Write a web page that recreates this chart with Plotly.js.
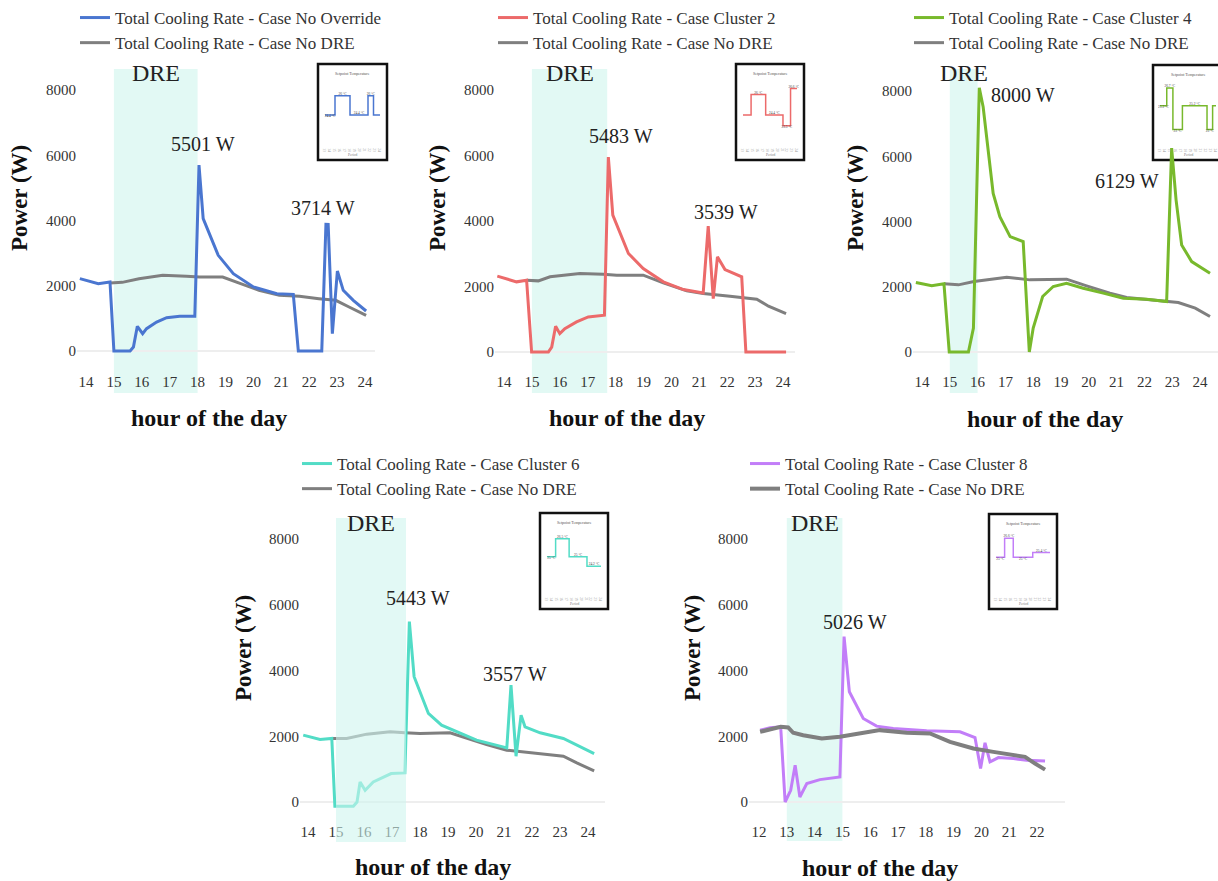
<!DOCTYPE html>
<html><head><meta charset="utf-8">
<script src="https://cdn.plot.ly/plotly-3.0.1.min.js"></script>
<style>html,body{margin:0;padding:0;background:#fff}#chart{width:1218px;height:881px}</style>
</head><body><div id="chart"></div>
<script>
// ---------------- DATA ----------------
const seriesNames = ['Total Cooling Rate - Case No Override','Total Cooling Rate - Case Cluster 2','Total Cooling Rate - Case Cluster 4','Total Cooling Rate - Case Cluster 6','Total Cooling Rate - Case Cluster 8'];
const baselineName = 'Total Cooling Rate - Case No DRE';
const xTicksA = [14,15,16,17,18,19,20,21,22,23,24];
const xTicksB = [12,13,14,15,16,17,18,19,20,21,22];
const yTicks = [0,2000,4000,6000,8000];
const xTitle = 'hour of the day';
const yTitle = 'Power (W)';
const dreLabel = 'DRE';

// Panel 1 – No Override
const p1Hours = [13.78,14.44,14.86,15.0,15.58,15.7,15.84,16.03,16.17,16.53,16.89,17.36,17.9,18.05,18.2,18.74,19.28,20.0,20.84,21.43,21.61,22.45,22.6,22.68,22.83,23.01,23.22,23.58,24.04];
const p1Cool  = [2217,2064,2115,0,0,120,756,531,684,889,1022,1062,1062,5700,4056,2932,2370,1962,1757,1737,0,0,3882,3880,531,2452,1860,1553,1226];
const p1BaseHours = [14.86,15.3,15.9,16.75,17.6,18.07,18.9,19.5,20.2,20.93,21.65,22.35,22.95,23.43,24.04];
const p1Base      = [2084,2104,2217,2319,2288,2268,2268,2084,1860,1706,1675,1604,1553,1349,1093];
const p1Dre = [15, 18];
const p1PeakAt = [18.05, 22.64];
const p1PeakLabels = ['5501 W','3714 W'];

// Panel 2 – Cluster 2
const p2Hours = [13.76,14.45,14.81,14.99,15.59,15.71,15.85,16.0,16.18,16.6,17.02,17.6,17.74,17.9,18.46,18.99,19.71,20.43,21.14,21.32,21.5,21.65,21.92,22.52,22.67,24.11];
const p2Cool  = [2316,2142,2193,0,0,150,785,561,714,918,1071,1122,5950,4182,3009,2550,2142,1907,1805,3845,1632,2907,2519,2295,0,0];
const p2BaseHours = [14.81,15.23,15.65,16.72,17.56,18.04,18.99,19.71,20.55,21.14,22.1,22.57,23.06,23.48,24.11];
const p2Base      = [2193,2172,2295,2397,2377,2346,2346,2111,1866,1785,1703,1652,1611,1397,1173];
const p2Dre = [15, 17.7];
const p2PeakAt = [17.74, 21.32];
const p2PeakLabels = ['5483 W','3539 W'];

// Panel 3 – Cluster 4
const p3Hours = [13.78,14.35,14.79,14.98,15.67,15.85,16.06,16.2,16.56,16.8,17.17,17.64,17.86,18.0,18.34,18.72,19.2,19.8,20.52,21.24,22.08,22.8,22.98,23.14,23.34,23.7,24.36];
const p3Cool  = [2130,2028,2089,0,0,734,8100,7510,4860,4147,3536,3383,0,734,1702,2007,2109,1956,1804,1651,1620,1549,6250,4657,3281,2772,2415];
const p3BaseHours = [14.79,15.31,15.87,17.05,17.88,19.2,19.92,20.76,21.36,22.32,23.22,23.83,24.36];
const p3Base      = [2089,2058,2160,2293,2211,2232,2028,1804,1671,1600,1518,1345,1090];
const p3Dre = [15, 16];
const p3PeakAt = [16.06, 22.98];
const p3PeakLabels = ['8000 W','6129 W'];

// Panel 4 – Cluster 6
const p4Hours = [13.83,14.43,14.85,14.96,15.62,15.75,15.86,16.04,16.33,16.81,16.97,17.46,17.62,17.79,18.3,18.77,19.19,20.02,21.1,21.25,21.43,21.61,21.75,22.29,23.12,23.6,24.22];
const p4Cool  = [2033,1901,1932,-130,-130,0,610,356,610,783,864,885,5490,3812,2694,2338,2186,1881,1647,3558,1393,2643,2288,2105,1932,1728,1474];
const p4BaseHours = [14.85,15.38,16.1,16.93,17.46,18.0,19.07,19.67,20.38,21.1,22.05,23.12,23.6,24.22];
const p4Base      = [1932,1932,2064,2135,2105,2084,2105,1932,1749,1576,1494,1393,1189,946];
const p4Dre = [15, 17.5];
const p4PeakAt = [17.62, 21.25];
const p4PeakLabels = ['5443 W','3557 W'];

// Panel 5 – Cluster 8
const p5Hours = [12.04,12.4,12.78,12.94,13.14,13.3,13.47,13.72,14.19,14.91,15.06,15.25,15.75,16.23,16.83,18.03,19.23,19.77,19.97,20.13,20.31,20.61,21.15,21.63,22.29];
const p5Cool  = [2186,2257,2288,0,356,1118,152,559,681,763,5033,3355,2542,2308,2237,2166,2135,1962,1017,1800,1220,1352,1322,1271,1250];
const p5BaseHours = [12.04,12.78,13.05,13.23,13.59,14.26,14.91,15.63,16.35,17.31,18.15,18.87,19.71,20.43,21.03,21.57,21.93,22.29];
const p5Base      = [2135,2288,2267,2105,2033,1932,1982,2084,2186,2105,2084,1830,1627,1525,1454,1373,1169,986];
const p5Dre = [13, 15];
const p5PeakAt = [15.06];
const p5PeakLabels = ['5026 W'];

// Inset setpoint schedules (period hour, °C)
const insetTitle = 'Setpoint Temperature';
const insetXTitle = 'Period';
const insetTicks = [13,14,15,16,17,18,19,20,21,22,23,24];
const in1X = [13,15,18,21.6,22.7,24];            const in1T = [24.4,26,24.4,26,24.4,24.4];
const in1Labels = ['24.4 °C','26 °C','24.4 °C','26 °C',''];
const in2X = [13,14.65,17.62,21.14,22.68,24];    const in2T = [24.4,26.1,24.4,23.5,26.6,26.6];
const in2Labels = ['','26 °C','24.4 °C','23.5 °C','26.6 °C'];
const in3X = [13,14.32,15.53,17.4,22.24,23.34,24]; const in3T = [25.2,26.7,23.2,25.2,23.2,25.2,25.2];
const in3Labels = ['25.2 °C','26.7 °C','23 °C','25.2 °C','23 °C',''];
const in4X = [13,14.76,17.51,21.14,24];          const in4T = [25.0,26.5,25.0,24.2,24.2];
const in4Labels = ['25 °C','26.5 °C','25 °C','24.2 °C'];
const in5X = [13,14.76,16.52,20.48,24];          const in5T = [25.0,26.6,25.0,25.4,25.4];
const in5Labels = ['25 °C','26.6 °C','25 °C','25.4 °C'];

// ---------------- LAYOUT HELPERS ----------------
const W = 1218, H = 881;
const px = v => v / W, py = v => 1 - v / H;
const SERIF = 'Liberation Serif, Times New Roman, serif';
const GRAY = '#7f7f7f';

const panels = [
  {hours:p1Hours, vals:p1Cool, bh:p1BaseHours, bv:p1Base, name:seriesNames[0], color:'#4a76d0', ticks:xTicksA, dre:p1Dre,
   peakAt:p1PeakAt, peakLabels:p1PeakLabels, peakShift:[[4,-21],[-3,-16]],
   h0:14, h0px:86, pxh:27.9, zero:351, p8k:90, dom:[77,375], ydom:[60,400], axisPx:371, rect:[69,393], dreTextPx:73,
   legX:115, legTop:0, ytitle:[20,198], xtitle:[209,418], grayW:3,
   inset:{box:[318,64,387,160], x:in1X, t:in1T, labels:in1Labels, pos:['bottom center','top center','top center','top center','top center']}},
  {hours:p2Hours, vals:p2Cool, bh:p2BaseHours, bv:p2Base, name:seriesNames[1], color:'#ec6a6a', ticks:xTicksA, dre:p2Dre,
   peakAt:p2PeakAt, peakLabels:p2PeakLabels, peakShift:[[13,-21],[18,-14]],
   h0:14, h0px:504, pxh:27.9, zero:352, p8k:90, dom:[495,795], ydom:[60,400], axisPx:371, rect:[69,393], dreTextPx:73,
   legX:533, legTop:0, ytitle:[438,198], xtitle:[627,418], grayW:3,
   inset:{box:[736,64,804,160], x:in2X, t:in2T, labels:in2Labels, pos:['top center','top center','top center','bottom center','top center']}},
  {hours:p3Hours, vals:p3Cool, bh:p3BaseHours, bv:p3Base, name:seriesNames[2], color:'#78b92c', ticks:xTicksA, dre:p3Dre,
   peakAt:p3PeakAt, peakLabels:p3PeakLabels, peakShift:[[44,7],[-45,33]],
   h0:14, h0px:922, pxh:27.8, zero:352, p8k:91, dom:[913,1218], ydom:[60,400], axisPx:371, rect:[69,393], dreTextPx:73,
   legX:949, legTop:0, ytitle:[856,198], xtitle:[1045,419], grayW:3,
   inset:{box:[1153,65,1223,160], x:in3X, t:in3T, labels:in3Labels, pos:['bottom center','top center','bottom center','top center','bottom center','top center']}},
  {hours:p4Hours, vals:p4Cool, bh:p4BaseHours, bv:p4Base, name:seriesNames[3], color:'#52dcc6', ticks:xTicksA, dre:p4Dre,
   peakAt:p4PeakAt, peakLabels:p4PeakLabels, peakShift:[[9,-24],[4,-11]],
   h0:14, h0px:308, pxh:28, zero:802, p8k:539, dom:[300,605], ydom:[510,850], axisPx:821, rect:[518,842], dreTextPx:523,
   legX:337, legTop:446, ytitle:[243,648], xtitle:[433,867], grayW:3, dreAbove:true,
   inset:{box:[540,513,608,609], x:in4X, t:in4T, labels:in4Labels, pos:['bottom center','top center','top center','top center']}},
  {hours:p5Hours, vals:p5Cool, bh:p5BaseHours, bv:p5Base, name:seriesNames[4], color:'#c27ef8', ticks:xTicksB, dre:p5Dre,
   peakAt:p5PeakAt, peakLabels:p5PeakLabels, peakShift:[[11,-15]],
   h0:12, h0px:759, pxh:27.8, zero:802, p8k:539, dom:[749,1065], ydom:[510,850], axisPx:821, rect:[518,841], dreTextPx:523,
   legX:785, legTop:446, ytitle:[692,648], xtitle:[880,868], grayW:4, grayOnTop:true,
   inset:{box:[989,514,1057,609], x:in5X, t:in5T, labels:in5Labels, pos:['bottom center','top center','bottom center','top center']}}
];

const traces = [];
const layout = {
  width: W, height: H, margin:{l:0,r:0,t:0,b:0},
  paper_bgcolor:'#ffffff', plot_bgcolor:'rgba(0,0,0,0)',
  font:{family:SERIF, color:'#333'},
  showlegend:true, hovermode:false,
  shapes:[], annotations:[]
};

panels.forEach((p, k) => {
  const i = k + 1, j = k + 6;
  const sx = i === 1 ? '' : String(i);
  const yval = v => (p.zero - v) * 8000 / (p.zero - p.p8k);
  const hour = v => p.h0 + (v - p.h0px) / p.pxh;
  const legId = i === 1 ? 'legend' : 'legend' + i;

  layout['xaxis' + sx] = {
    domain:[px(p.dom[0]), px(p.dom[1])], range:[hour(p.dom[0]), hour(p.dom[1])],
    anchor:'free', position:py(p.axisPx), tickvals:p.ticks, ticks:'', showline:false,
    showgrid:false, zeroline:false, tickfont:{family:SERIF, size:15, color:'#333'}, fixedrange:true
  };
  layout['yaxis' + sx] = {
    domain:[py(p.ydom[1]), py(p.ydom[0])], range:[yval(p.ydom[1]), yval(p.ydom[0])],
    anchor:'x' + sx, tickvals:yTicks, tickformat:'d', ticks:'', showline:false, showgrid:false,
    zeroline:true, zerolinecolor:'#eeeeee', zerolinewidth:1.5,
    tickfont:{family:SERIF, size:15, color:'#333'}, fixedrange:true
  };

  const main = {x:p.hours, y:p.vals, xaxis:'x'+sx, yaxis:'y'+sx, mode:'lines', name:p.name,
    line:{color:p.color, width:3}, legend:legId, legendrank:1};
  const base = {x:p.bh, y:p.bv, xaxis:'x'+sx, yaxis:'y'+sx, mode:'lines', name:baselineName,
    line:{color:GRAY, width:p.grayW}, legend:legId, legendrank:2};
  if (p.grayOnTop) { traces.push(main, base); } else { traces.push(base, main); }

  layout[legId] = {
    x:px(p.legX - 40), xanchor:'left', y:py(p.legTop), yanchor:'top',
    bgcolor:'rgba(0,0,0,0)', borderwidth:0, tracegroupgap:0,
    font:{family:SERIF, size:17, color:'#333'}
  };

  // DRE band
  layout.shapes.push({type:'rect', xref:'x'+sx, yref:'y'+sx, x0:p.dre[0], x1:p.dre[1],
    y0:yval(p.rect[1]), y1:yval(p.rect[0]), line:{width:0},
    fillcolor: p.dreAbove ? 'rgb(206,245,238)' : 'rgb(226,249,244)',
    opacity: p.dreAbove ? 0.6 : 1, layer: p.dreAbove ? 'above' : 'below'});
  layout.annotations.push({text:dreLabel, xref:'x'+sx, yref:'paper', x:(p.dre[0]+p.dre[1])/2, y:py(p.dreTextPx),
    showarrow:false, xanchor:'center', yanchor:'middle', font:{family:SERIF, size:24, color:'#222'}});

  // peak labels
  p.peakAt.forEach((h, m) => {
    let best = -1;
    p.hours.forEach((hh, n) => { if (Math.abs(hh - h) < 0.35 && (best < 0 || p.vals[n] > p.vals[best])) best = n; });
    layout.annotations.push({text:p.peakLabels[m], xref:'x'+sx, yref:'y'+sx, x:p.hours[best], y:p.vals[best],
      xshift:p.peakShift[m][0], yshift:-p.peakShift[m][1], showarrow:false, xanchor:'center', yanchor:'middle',
      font:{family:SERIF, size:20, color:'#222'}});
  });

  // axis titles
  layout.annotations.push({text:yTitle, xref:'paper', yref:'paper', x:px(p.ytitle[0]), y:py(p.ytitle[1]),
    textangle:-90, showarrow:false, xanchor:'center', yanchor:'middle',
    font:{family:SERIF, size:23, color:'#111', weight:'bold'}});
  layout.annotations.push({text:xTitle, xref:'paper', yref:'paper', x:px(p.xtitle[0]), y:py(p.xtitle[1]),
    showarrow:false, xanchor:'center', yanchor:'middle',
    font:{family:SERIF, size:24, color:'#111', weight:'bold'}});

  // inset
  const b = p.inset.box, bh = b[3] - b[1];
  layout.shapes.push({type:'rect', xref:'paper', yref:'paper', x0:px(b[0]), x1:px(b[2]), y0:py(b[3]), y1:py(b[1]),
    line:{color:'#111', width:2.5}, fillcolor:'#ffffff', layer:'below'});
  layout['xaxis' + j] = {
    domain:[px(b[0]+5), px(b[2]-5)], range:[12.6, 24.4], anchor:'y'+j, tickvals:insetTicks,
    ticks:'', showline:false, showgrid:false, zeroline:false, tickfont:{size:3.5, color:'#999'}, fixedrange:true
  };
  layout['yaxis' + j] = {
    domain:[py(b[1] + 0.85*bh), py(b[1] + 0.15*bh)], range:[21.84, 27.44], anchor:'x'+j,
    visible:false, fixedrange:true
  };
  traces.push({x:p.inset.x, y:p.inset.t, xaxis:'x'+j, yaxis:'y'+j, mode:'lines',
    line:{color:p.color, width:1.5, shape:'hv'}, showlegend:false});
  const midX = p.inset.x.slice(0, -1).map((v, n) => (v + p.inset.x[n+1]) / 2);
  traces.push({x:midX, y:p.inset.t.slice(0, -1), xaxis:'x'+j, yaxis:'y'+j, mode:'text',
    text:p.inset.labels, textposition:p.inset.pos, textfont:{size:3.5, color:'#444'}, showlegend:false});
  layout.annotations.push({text:insetTitle, xref:'paper', yref:'paper', x:px((b[0]+b[2])/2), y:py(b[1] + 0.1*bh),
    showarrow:false, xanchor:'center', yanchor:'middle', font:{size:4, color:'#555'}});
  layout.annotations.push({text:insetXTitle, xref:'paper', yref:'paper', x:px((b[0]+b[2])/2), y:py(b[1] + 0.95*bh),
    showarrow:false, xanchor:'center', yanchor:'middle', font:{size:3.5, color:'#777'}});
});

Plotly.newPlot('chart', traces, layout, {staticPlot:true, displayModeBar:false});
</script>
</body></html>
